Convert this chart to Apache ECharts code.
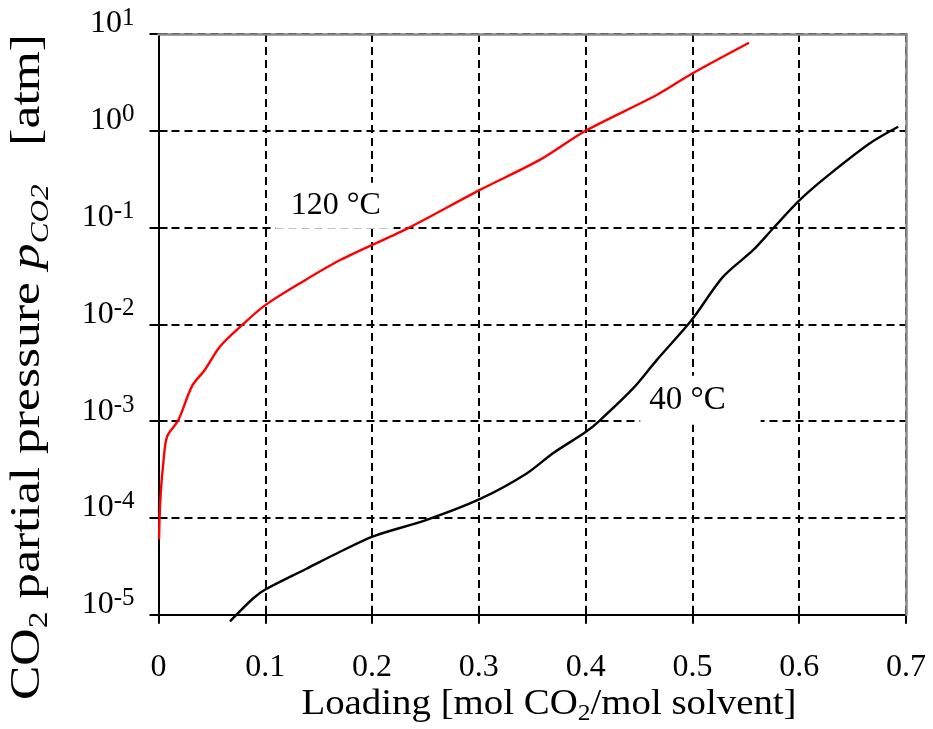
<!DOCTYPE html>
<html>
<head>
<meta charset="utf-8">
<script src="https://cdn.jsdelivr.net/npm/echarts@6/dist/echarts.min.js"></script>
<style>html,body{margin:0;padding:0;background:#fff}#c{width:933px;height:729px}</style>
</head>
<body>
<div id="c"></div>
<script>
// ---- data ----
var xTickLabels = ['0', '0.1', '0.2', '0.3', '0.4', '0.5', '0.6', '0.7'];
var yTickExponents = ['-5', '-4', '-3', '-2', '-1', '0', '1'];

var loading120 = [0.0005, 0.0010, 0.0023, 0.0042, 0.008, 0.0185, 0.0314, 0.0435, 0.0576, 0.079, 0.100, 0.1325, 0.1702, 0.2324, 0.301, 0.357, 0.400, 0.4665, 0.5002, 0.553];
var pco2_120   = [6.0e-5, 1.0e-4, 1.95e-4, 3.4e-4, 6.9e-4, 1.02e-3, 2.3e-3, 3.4e-3, 5.9e-3, 0.010, 0.0158, 0.0266, 0.0462, 0.0968, 0.245, 0.50, 1.0, 2.34, 3.93, 8.13];

var loading40 = [0.067, 0.073, 0.0888, 0.100, 0.139, 0.170, 0.2011, 0.2511, 0.3017, 0.3448, 0.3697, 0.4003, 0.4134, 0.4446, 0.4665, 0.4993, 0.5288, 0.557, 0.5757, 0.6006, 0.6257, 0.6662, 0.6927];
var pco2_40   = [8.5e-6, 1.0e-5, 1.48e-5, 1.82e-5, 3.0e-5, 4.47e-5, 6.46e-5, 9.55e-5, 1.58e-4, 2.88e-4, 4.68e-4, 7.76e-4, 1.02e-3, 2.19e-3, 4.27e-3, 0.0111, 0.0311, 0.0587, 0.0984, 0.193, 0.336, 0.743, 1.10];

var label120 = {text: '120 °C', x: 0.165, y: 0.168};
var label40 = {text: '40 °C', x: 0.5075, y: 0.00164};

var xTitle = '{t|Loading [mol CO}{s|2}{t|/mol solvent]}';
var yTitle = '{t|CO}{s|2}{t| partial pressure }{i|p}{is|CO2}{t|   [atm]}';

function pairs(xs, ys) { return xs.map(function (x, i) { return [x, ys[i]]; }); }

var FONT = '"Liberation Serif", "Times New Roman", serif';
var chart = echarts.init(document.getElementById('c'), null, {renderer: 'canvas'});

var xBase = {type: 'value', min: 0, max: 0.7, interval: 0.1};
var yBase = {type: 'log', logBase: 10, min: 1e-5, max: 10};
var gridDash = {color: '#000', width: 2, type: [8, 5]};

var option = {
  backgroundColor: '#fff',
  animation: false,
  grid: {left: 158.5, right: 27, top: 34, bottom: 114.3, outerBoundsMode: 'none', containLabel: false},
  xAxis: [
    Object.assign({}, xBase, {
      position: 'bottom',
      axisLine: {show: true, onZero: false, lineStyle: {color: '#000', width: 2}},
      axisTick: {show: true, length: 9, lineStyle: {color: '#000', width: 2}},
      splitLine: {show: true, lineStyle: gridDash},
      axisLabel: {
        margin: 37, color: '#000', fontSize: 32, fontFamily: FONT,
        formatter: function (v) { return xTickLabels[Math.round(v * 10)]; }
      }
    }),
    Object.assign({}, xBase, {
      position: 'bottom', z: 3,
      axisLine: {show: false, onZero: false},
      axisTick: {show: true, inside: true, length: 9, lineStyle: {color: '#000', width: 2}},
      axisLabel: {show: false}, splitLine: {show: false}
    }),
    Object.assign({}, xBase, {
      position: 'top', z: 4,
      axisLine: {show: true, onZero: false, lineStyle: {color: '#888', width: 2.5}},
      axisTick: {show: false}, axisLabel: {show: false}, splitLine: {show: false}
    })
  ],
  yAxis: [
    Object.assign({}, yBase, {
      position: 'left',
      axisLine: {show: true, onZero: false, lineStyle: {color: '#000', width: 2}},
      axisTick: {show: true, length: 9, lineStyle: {color: '#000', width: 2}},
      splitLine: {show: true, lineStyle: gridDash},
      minorTick: {show: false},
      axisLabel: {
        margin: 24, color: '#000', fontFamily: FONT, verticalAlign: 'bottom',
        formatter: function (v) {
          var e = Math.round(Math.log10(v));
          return '{b|10}{e|' + yTickExponents[e + 5] + '}';
        },
        rich: {
          b: {fontSize: 32, fontFamily: FONT, color: '#000', lineHeight: 20, height: 20, verticalAlign: 'bottom'},
          e: {fontSize: 25, fontFamily: FONT, color: '#000', lineHeight: 8, height: 8, verticalAlign: 'top'}
        }
      }
    }),
    Object.assign({}, yBase, {
      position: 'left', z: 3,
      axisLine: {show: false, onZero: false},
      axisTick: {show: true, inside: true, length: 9, lineStyle: {color: '#000', width: 2}},
      axisLabel: {show: false}, splitLine: {show: false}
    }),
    Object.assign({}, yBase, {
      position: 'right', z: 4,
      axisLine: {show: true, onZero: false, lineStyle: {color: '#888', width: 2.5}},
      axisTick: {show: false}, axisLabel: {show: false}, splitLine: {show: false}
    })
  ],
  graphic: [
    {
      type: 'text', x: 549, y: 705, scaleX: 1.11, z: 10,
      style: {
        text: xTitle, align: 'center', verticalAlign: 'middle',
        rich: {
          t: {fontSize: 35, fontFamily: FONT, fill: '#000'},
          s: {fontSize: 23, fontFamily: FONT, fill: '#000', verticalAlign: 'bottom', lineHeight: 40}
        }
      }
    },
    {
      type: 'text', x: 28, y: 367, rotation: Math.PI / 2, scaleX: 1.2, z: 10,
      style: {
        text: yTitle, align: 'center', verticalAlign: 'middle',
        rich: {
          t: {fontSize: 43, fontFamily: FONT, fill: '#000'},
          s: {fontSize: 28, fontFamily: FONT, fill: '#000', verticalAlign: 'bottom', lineHeight: 50},
          i: {fontSize: 43, fontFamily: FONT, fontStyle: 'italic', fill: '#000'},
          is: {fontSize: 26, fontFamily: FONT, fontStyle: 'italic', fill: '#000', verticalAlign: 'bottom', lineHeight: 52}
        }
      }
    }
  ],
  series: [
    {
      name: '120 °C', type: 'line', data: pairs(loading120, pco2_120),
      showSymbol: false, smooth: 0.3, clip: false, z: 5,
      lineStyle: {color: '#ff0000', width: 2.4},
      markPoint: {
        symbol: 'circle', symbolSize: 1, itemStyle: {color: 'rgba(0,0,0,0)'},
        label: {show: true, position: 'inside', formatter: label120.text, color: '#000', fontSize: 32, fontFamily: FONT,
                backgroundColor: '#fff', padding: [7, 13, 7, 15]},
        data: [{coord: [label120.x, label120.y]}]
      }
    },
    {
      name: '40 °C', type: 'line', data: pairs(loading40, pco2_40),
      showSymbol: false, smooth: 0.3, clip: false, z: 5,
      lineStyle: {color: '#000', width: 2.4},
      markPoint: {
        symbol: 'circle', symbolSize: 1, itemStyle: {color: 'rgba(0,0,0,0)'},
        label: {show: true, position: 'inside', formatter: label40.text, color: '#000', fontSize: 33, fontFamily: FONT,
                backgroundColor: '#fff', padding: [8, 35, 8, 9]},
        data: [{coord: [label40.x, label40.y]}]
      }
    }
  ]
};
chart.setOption(option);
</script>
</body>
</html>
